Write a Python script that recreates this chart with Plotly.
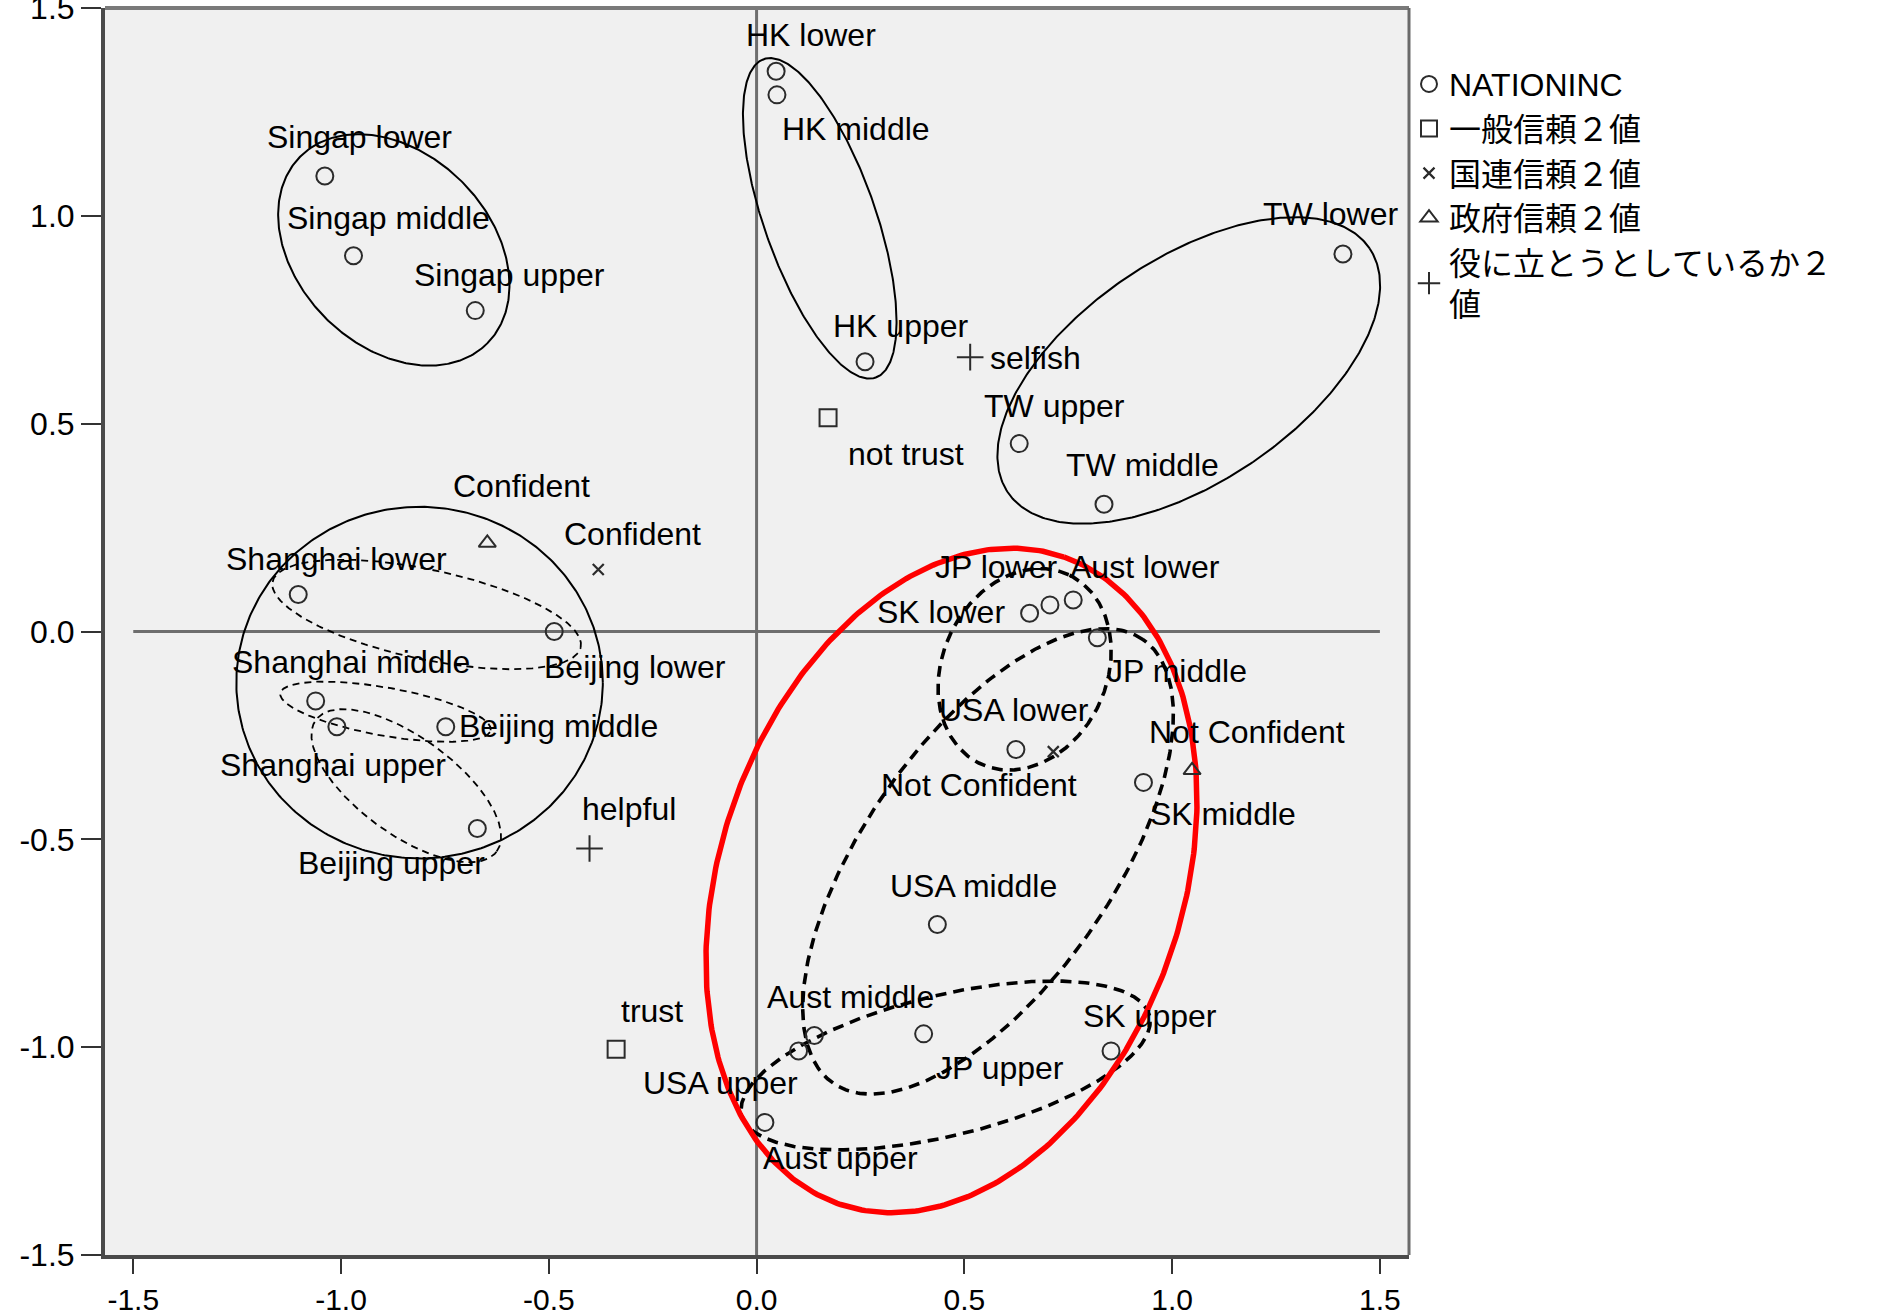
import numpy as np
import plotly.graph_objects as go

# ---------------- data ----------------
nation_labels = ["HK lower", "HK middle", "HK upper",
                 "Singap lower", "Singap middle", "Singap upper",
                 "TW lower", "TW middle", "TW upper",
                 "Shanghai lower", "Shanghai middle", "Shanghai upper",
                 "Beijing lower", "Beijing middle", "Beijing upper",
                 "JP lower", "JP middle", "JP upper",
                 "SK lower", "SK middle", "SK upper",
                 "USA lower", "USA middle", "USA upper",
                 "Aust lower", "Aust middle", "Aust upper"]
nation_x = [0.047, 0.049, 0.261,
            -1.039, -0.970, -0.677,
            1.411, 0.836, 0.632,
            -1.103, -1.061, -1.010,
            -0.487, -0.748, -0.672,
            0.706, 0.820, 0.402,
            0.657, 0.931, 0.853,
            0.624, 0.435, 0.101,
            0.762, 0.139, 0.020]
nation_y = [1.348, 1.291, 0.649,
            1.096, 0.904, 0.772,
            0.908, 0.306, 0.452,
            0.089, -0.167, -0.229,
            0.000, -0.229, -0.474,
            0.064, -0.015, -0.968,
            0.044, -0.363, -1.009,
            -0.284, -0.705, -1.009,
            0.076, -0.972, -1.181]

trust_labels = ["not trust", "trust"]
trust_x = [0.172, -0.338]
trust_y = [0.514, -1.005]

un_labels = ["Confident", "Not Confident"]
un_x = [-0.381, 0.714]
un_y = [0.149, -0.289]

gov_labels = ["Confident", "Not Confident"]
gov_x = [-0.648, 1.048]
gov_y = [0.213, -0.334]

help_labels = ["selfish", "helpful"]
help_x = [0.514, -0.402]
help_y = [0.660, -0.522]

legend_names = ["NATIONINC", "一般信頼２値", "国連信頼２値", "政府信頼２値",
                "役に立とうとしているか２<br>値"]

tick_vals = [-1.5, -1.0, -0.5, 0.0, 0.5, 1.0, 1.5]
tick_text = ["-1.5", "-1.0", "-0.5", "0.0", "0.5", "1.0", "1.5"]

# ---------------- label offsets (pixels) ----------------
label_shift = {
    "HK lower": (35, 36), "HK middle": (79, -34), "HK upper": (36, 36),
    "Singap lower": (35, 39), "Singap middle": (35, 38), "Singap upper": (34, 36),
    "TW lower": (-12, 40), "TW middle": (39, 39), "TW upper": (35, 38),
    "Shanghai lower": (38, 36), "Shanghai middle": (35, 39), "Shanghai upper": (-4, -38),
    "Beijing lower": (81, -35), "Beijing middle": (113, 1), "Beijing upper": (-86, -34),
    "JP lower": (-54, 38), "JP middle": (80, -33), "JP upper": (76, -34),
    "SK lower": (-89, 1), "SK middle": (80, -32), "SK upper": (39, 35),
    "USA lower": (-2, 40), "USA middle": (36, 39), "USA upper": (-78, -32),
    "Aust lower": (72, 33), "Aust middle": (36, 39), "Aust upper": (76, -36),
}
trust_shift = [(78, -36), (36, 38)]
un_shift = [(34, 36), (-74, -33)]
gov_shift = [(34, 57), (55, 38)]
help_shift = [(65, -1), (39, 39)]

# ellipse decorations: centre x, centre y, semi-axis a, semi-axis b, angle (deg), style
ellipses = [
    (-0.873, 0.918, 0.318, 0.232, -45.0, "solid"),
    (0.152, 0.994, 0.406, 0.134, -70.6, "solid"),
    (1.040, 0.628, 0.525, 0.269, 34.0, "solid"),
    (-0.811, -0.123, 0.441, 0.423, 0.0, "solid"),
    (-0.794, 0.041, 0.379, 0.108, -12.0, "thin"),
    (-0.893, -0.193, 0.257, 0.058, -10.0, "thin"),
    (-0.843, -0.371, 0.269, 0.117, -36.0, "thin"),
    (0.645, -0.091, 0.251, 0.198, 65.0, "bold"),
    (0.557, -0.553, 0.651, 0.298, 55.0, "bold"),
    (0.455, -1.044, 0.505, 0.169, 13.7, "bold"),
    (0.469, -0.599, 0.824, 0.556, 70.8, "red"),
]
ellipse_styles = {
    "solid": dict(color="black", width=2),
    "thin": dict(color="black", width=1.8, dash="7px,5px"),
    "bold": dict(color="black", width=3.6, dash="11px,7px"),
    "red": dict(color="#ff0000", width=5.5),
}

FONT = "Liberation Sans, Arial, Noto Sans CJK JP, sans-serif"
MK = "#2b2b2b"

fig = go.Figure()

# reference lines
fig.add_shape(type="line", xref="x", yref="paper", x0=0, x1=0, y0=0, y1=1,
              line=dict(color="#6e6e6e", width=3), layer="below")
fig.add_shape(type="line", xref="x", yref="y", x0=tick_vals[0], x1=tick_vals[-1], y0=0, y1=0,
              line=dict(color="#6e6e6e", width=3), layer="below")


def ellipse_xy(cx, cy, a, b, ang):
    t = np.linspace(0, 2 * np.pi, 400)
    th = np.radians(ang)
    x = cx + a * np.cos(t) * np.cos(th) - b * np.sin(t) * np.sin(th)
    y = cy + a * np.cos(t) * np.sin(th) + b * np.sin(t) * np.cos(th)
    return x, y


for cx, cy, a, b, ang, st in ellipses:
    ex, ey = ellipse_xy(cx, cy, a, b, ang)
    fig.add_trace(go.Scatter(x=ex, y=ey, mode="lines", line=ellipse_styles[st],
                             showlegend=False, hoverinfo="skip"))

groups = [
    (legend_names[0], nation_x, nation_y, dict(symbol="circle-open", size=17, line=dict(width=2, color=MK))),
    (legend_names[1], trust_x, trust_y, dict(symbol="square-open", size=17, line=dict(width=2, color=MK))),
    (legend_names[2], un_x, un_y, dict(symbol="x-thin-open", size=11, line=dict(width=2.2, color=MK))),
    (legend_names[3], gov_x, gov_y, dict(symbol="triangle-up-open", size=15, line=dict(width=2, color=MK))),
    (legend_names[4], help_x, help_y, dict(symbol="cross-thin-open", size=19, line=dict(width=2, color=MK))),
]
for name, xs, ys, mk in groups:
    fig.add_trace(go.Scatter(x=xs, y=ys, mode="markers", name=name,
                             marker=dict(color=MK, **mk), hoverinfo="skip"))

anns = []


def add_labels(labels, xs, ys, shifts):
    for lab, x, y, sh in zip(labels, xs, ys, shifts):
        anns.append(dict(x=x, y=y, xref="x", yref="y", text=lab, showarrow=False,
                         xshift=sh[0], yshift=sh[1],
                         font=dict(family=FONT, size=32, color="black")))


add_labels(nation_labels, nation_x, nation_y, [label_shift[l] for l in nation_labels])
add_labels(trust_labels, trust_x, trust_y, trust_shift)
add_labels(un_labels, un_x, un_y, un_shift)
add_labels(gov_labels, gov_x, gov_y, gov_shift)
add_labels(help_labels, help_x, help_y, help_shift)

# top / right frame
fig.add_shape(type="line", xref="paper", yref="paper", x0=0, x1=1, y0=1, y1=1,
              line=dict(color="#7a7a7a", width=4))
fig.add_shape(type="line", xref="paper", yref="paper", x0=1, x1=1, y0=0, y1=1,
              line=dict(color="#6a6a6a", width=3))

axis_common = dict(showgrid=False, zeroline=False, ticks="outside",
                   tickwidth=2, tickcolor="#333333", showline=True, linewidth=4,
                   linecolor="#4a4a4a", tickvals=tick_vals, ticktext=tick_text,
                   ticklabeloverflow="allow")

fig.update_layout(
    width=1901, height=1315,
    margin=dict(l=105, r=492, t=8, b=60, autoexpand=False),
    paper_bgcolor="white", plot_bgcolor="#f0f0f0",
    xaxis=dict(range=[-1.568, 1.570], ticklen=15,
               tickfont=dict(family=FONT, size=30, color="black"), **axis_common),
    yaxis=dict(range=[-1.5, 1.5], ticklen=20,
               tickfont=dict(family=FONT, size=32, color="black"), **axis_common),
    annotations=anns,
    showlegend=True,
    legend=dict(x=1.0, xanchor="left", y=0.961, yanchor="top",
                font=dict(family=FONT, size=32, color="black"),
                bgcolor="rgba(0,0,0,0)", borderwidth=0, tracegroupgap=0,
                itemsizing="trace"),
    hovermode=False,
)

fig.write_html("out.html", config={"displayModeBar": False},
               post_script="document.body.style.margin='0';")
